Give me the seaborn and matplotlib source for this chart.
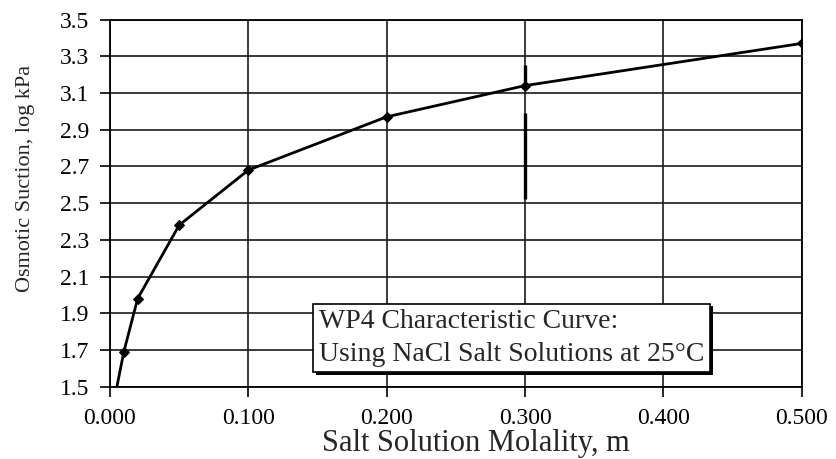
import matplotlib
matplotlib.use("Agg")
import matplotlib.pyplot as plt
import matplotlib.patheffects as pe
import seaborn as sns
import pandas as pd

# NaCl molality (mol/kg) and measured osmotic suction (log kPa)
molality = [0.005, 0.01, 0.02, 0.05, 0.10, 0.20, 0.30, 0.50]
suction = [1.50, 1.69, 1.98, 2.38, 2.68, 2.97, 3.14, 3.37]

# spread of the readings at 0.3 m, drawn as two vertical strokes
spread_x = [0.30, 0.30]
spread_lo = [2.52, 3.14]
spread_hi = [2.99, 3.25]

x_ticks = [0.0, 0.1, 0.2, 0.3, 0.4, 0.5]
x_tick_labels = ["0.000", "0.100", "0.200", "0.300", "0.400", "0.500"]
y_ticks = [1.5, 1.7, 1.9, 2.1, 2.3, 2.5, 2.7, 2.9, 3.1, 3.3, 3.5]
y_tick_labels = ["1.5", "1.7", "1.9", "2.1", "2.3", "2.5", "2.7", "2.9", "3.1", "3.3", "3.5"]

sns.set_style("ticks")
plt.rcParams["font.family"] = ["Liberation Serif", "DejaVu Serif"]

df = pd.DataFrame({"m": molality, "psi": suction})

fig = plt.figure(figsize=(8.37, 4.59), dpi=100)
ax = fig.add_axes([0.1314, 0.1575, 0.8266, 0.8000])

ax.grid(True, color="#1a1a1a", linewidth=1.2)
ax.set_axisbelow(True)

sns.lineplot(data=df, x="m", y="psi", ax=ax, color="black", linewidth=2.0,
             marker="D", markersize=5, markeredgecolor="black",
             markevery=list(range(1, len(molality))), clip_on=True)

ax.vlines(spread_x, spread_lo, spread_hi, color="black", linewidth=2.4)

ax.set_xlim(0.0, 0.5)
ax.set_ylim(1.5, 3.5)
ax.set_xticks(x_ticks)
ax.set_xticklabels(x_tick_labels)
ax.set_yticks(y_ticks)
ax.set_yticklabels(y_tick_labels)
ax.tick_params(axis="both", direction="out", length=7, width=1.2, color="black",
               labelsize=17, pad=8, labelcolor="black")
for s in ax.spines.values():
    s.set_color("black")
    s.set_linewidth(1.3)

ax.set_xlabel("Salt Solution Molality, m", fontsize=22)
ax.xaxis.set_label_coords(0.529, -0.115)
ax.set_ylabel("Osmotic Suction, log kPa", fontsize=16)
ax.yaxis.set_label_coords(-0.108, 0.566)

t = ax.text(0.151, 1.765,
            "WP4 Characteristic Curve:\nUsing NaCl Salt Solutions at 25\u00b0C",
            fontsize=20, ha="left", va="center", linespacing=1.4,
            bbox=dict(boxstyle="square,pad=0.2", facecolor="white",
                      edgecolor="black", linewidth=1.2))
t.get_bbox_patch().set_path_effects(
    [pe.SimplePatchShadow(offset=(2, -2), shadow_rgbFace="black", alpha=1.0),
     pe.Normal()])

fig.savefig("out.png", dpi=100)
